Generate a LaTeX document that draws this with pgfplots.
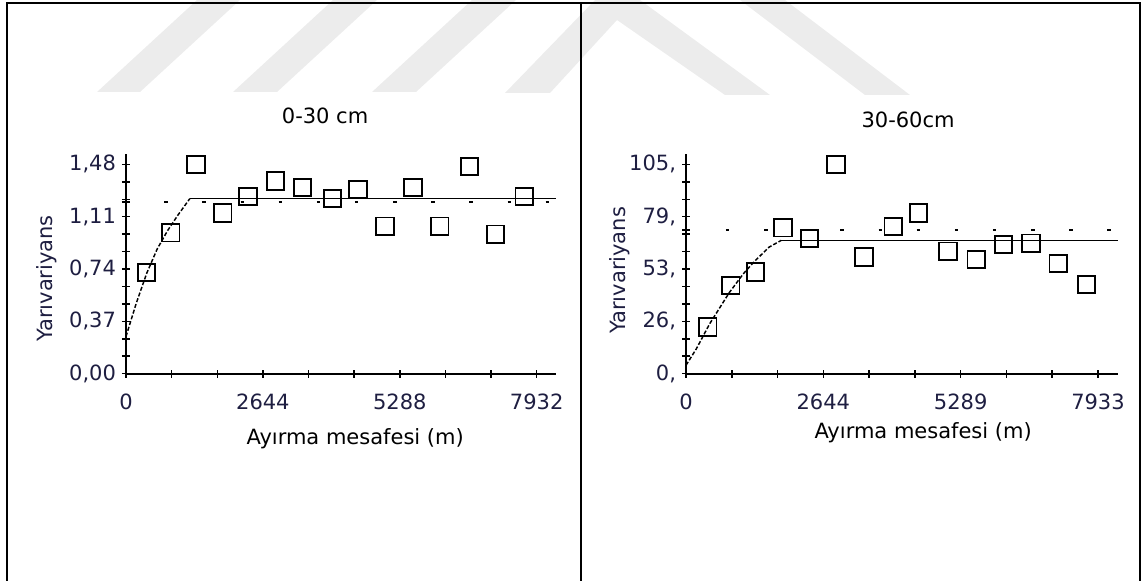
\documentclass[border=0pt]{standalone}
\usepackage{pgfplots}
\pgfplotsset{compat=1.18}
\usepackage{fontspec}
\setmainfont{DejaVu Sans}
\definecolor{navy}{RGB}{30,30,65}
\definecolor{wm}{RGB}{236,236,236}

\pgfplotstableread{
x y
395 0.714
866 0.996
1351 1.480
1870 1.137
2355 1.254
2889 1.363
3408 1.316
3990 1.238
4482 1.302
5002 1.043
5542 1.316
6061 1.043
6637 1.466
7135 0.987
7690 1.254
}\leftdata

\pgfplotstableread{
x y
421 23.4
863 44.3
1339 51.0
1869 73.2
2379 67.7
2889 105.0
3426 58.5
3990 73.9
4480 80.6
5044 61.5
5588 57.3
6111 64.9
6641 65.5
7165 55.2
7709 44.8
}\rightdata

\pgfplotsset{
  vario/.style={
    scale only axis,
    axis x line*=bottom,
    axis y line*=left,
    axis line style={line width=1.4pt, black},
    tick style={line width=1.1pt, black},
    tick align=center,
    major tick length=6pt,
    xmin=0, ymin=0,
    /pgf/number format/assume math mode=true,
    ticklabel style={font=\fontsize{15.75}{19}\selectfont, text=navy},
    label style={font=\fontsize{15.75}{19}\selectfont},
    title style={font=\fontsize{15.75}{19}\selectfont, anchor=center},
    xlabel style={anchor=center, text=black},
    ylabel style={anchor=center, text=navy},
    xticklabel style={yshift=-9pt},
    yticklabel style={xshift=-1pt},
    every axis plot/.append style={black},
  }
}

\begin{document}
\begin{tikzpicture}
\useasboundingbox (0,0) rectangle (859.5pt,435.75pt);
% watermark
\begin{scope}[x=0.75pt,y=-0.75pt,yshift=435.75pt]
\fill[wm] (97,92) -- (140,92) -- (240,0) -- (197,0) -- cycle;
\fill[wm] (233,92) -- (277,92) -- (377,0) -- (333,0) -- cycle;
\fill[wm] (372,92) -- (416,92) -- (516,0) -- (472,0) -- cycle;
\fill[wm] (505,93) -- (550,93) -- (617,20) -- (725,95) -- (770,95) -- (640,0) -- (595,0) -- cycle;
\fill[wm] (740,0) -- (785,0) -- (910,95) -- (865,95) -- cycle;
\end{scope}

% left panel
\begin{axis}[vario,
  at={(94.5pt,155.5pt)}, anchor=south west,
  width=322.5pt, height=165pt,
  xmax=8305, ymax=1.556,
  xtick={0,881.33,1762.67,2644,3525.33,4406.67,5288,6169.33,7050.67,7932},
  xticklabels={0,,,2644,,,5288,,,7932},
  ytick={0,0.12333,0.24667,0.37,0.49333,0.61667,0.74,0.86333,0.98667,1.11,1.23333,1.35667,1.48},
  yticklabels={{0,00},,,{0,37},,,{0,74},,,{1,11},,,{1,48}},
  extra y ticks={1.215}, extra y tick labels={},
  title={0-30 cm},
  title style={at={(axis description cs:0.463,1.135)}},
  xlabel={Ayırma mesafesi (m)},
  xlabel style={at={(axis description cs:0.533,-0.294)}},
  ylabel={Yarıvariyans},
  ylabel style={at={(axis description cs:-0.184,0.433)}},
]
\addplot[line width=1.1pt, dash pattern=on 3pt off 1.5pt] coordinates {
(0,0.263) (200,0.50) (400,0.71) (600,0.88) (800,1.01) (1000,1.12) (1233,1.238)};
\addplot[line width=1.2pt] coordinates {(1233,1.238) (8305,1.238)};
\addplot[line width=1.2pt, dash pattern=on 2.6pt off 26pt] coordinates {(740,1.215) (8305,1.215)};
\addplot[only marks, mark=square, mark size=6.5pt, mark options={line width=1.4pt, fill=none}] table[x=x,y=y] {\leftdata};
\end{axis}

% right panel
\begin{axis}[vario,
  at={(514.5pt,155.5pt)}, anchor=south west,
  width=324pt, height=165pt,
  xmax=8318, ymax=110.4,
  xtick={0,881.44,1762.89,2644.33,3525.78,4407.22,5288.67,6170.11,7051.56,7933},
  xticklabels={0,,,2644,,,5289,,,7933},
  ytick={0,8.75,17.5,26.25,35,43.75,52.5,61.25,70,78.75,87.5,96.25,105},
  yticklabels={{0,},,,{26,},,,{53,},,,{79,},,,{105,}},
  extra y ticks={72.2}, extra y tick labels={},
  title={30-60cm},
  title style={at={(axis description cs:0.514,1.118)}},
  xlabel={Ayırma mesafesi (m)},
  xlabel style={at={(axis description cs:0.549,-0.267)}},
  ylabel={Yarıvariyans},
  ylabel style={at={(axis description cs:-0.153,0.47)}},
]
\addplot[line width=1.1pt, dash pattern=on 3pt off 1.5pt] coordinates {
(0,4.2) (200,12.5) (455,25) (829,40.5) (1100,50) (1305,56) (1600,63.5) (1835,66.9)};
\addplot[line width=1.2pt] coordinates {(1835,66.9) (8318,66.9)};
\addplot[line width=1.2pt, dash pattern=on 2.6pt off 26pt] coordinates {(770,72.2) (8318,72.2)};
\addplot[only marks, mark=square, mark size=6.5pt, mark options={line width=1.4pt, fill=none}] table[x=x,y=y] {\rightdata};
\end{axis}

% frame
\begin{scope}[x=0.75pt,y=-0.75pt,yshift=435.75pt]
\draw[line width=1.5pt] (6.5,600) -- (6.5,3.5) -- (1139.5,3.5) -- (1139.5,600);
\draw[line width=1.5pt] (580.5,3.5) -- (580.5,600);
\end{scope}
\end{tikzpicture}
\end{document}
